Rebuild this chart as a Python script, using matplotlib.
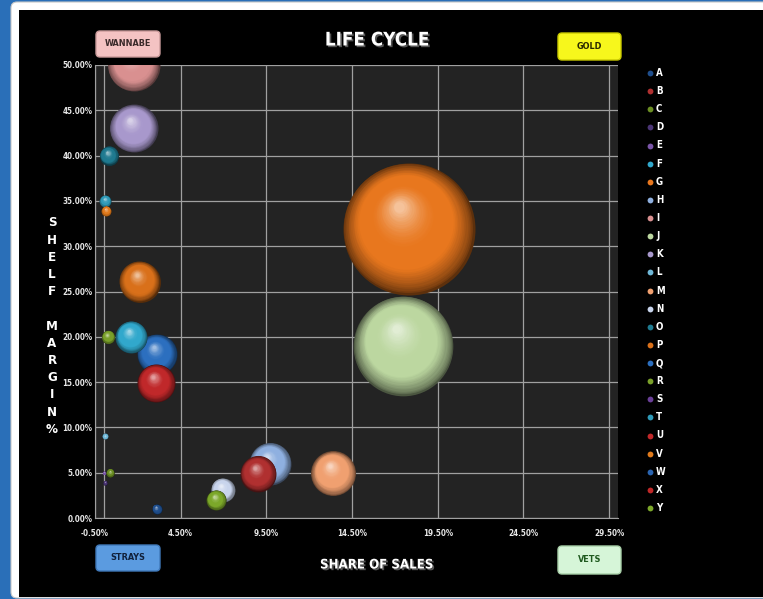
import numpy as np
import matplotlib
matplotlib.use("Agg")
import matplotlib.pyplot as plt
import matplotlib.patheffects as pe
from matplotlib.colors import to_rgb
from matplotlib.patches import FancyBboxPatch, Rectangle
from matplotlib.transforms import ScaledTranslation

# series (share of sales %, shelf margin %, bubble size); NaN = not visible in chart
SERIES = list("ABCDEFGHIJKLMNOPQRSTUVWXY")
SHARE = [3.1, 9.0, 0.4, 0.1, 0.05, 1.6, 17.8, 9.7, 1.75, 17.5,
         1.75, 0.1, 13.4, 6.95, 0.3, 2.1, 3.1, 0.25, np.nan, 0.1,
         3.05, 0.15, np.nan, np.nan, 6.55]
MARGIN = [1.0, 4.9, 5.0, 3.9, 5.0, 20.0, 31.9, 6.0, 50.0, 19.0,
          43.0, 9.0, 4.93, 3.1, 40.0, 26.1, 18.1, 20.0, np.nan, 35.0,
          14.9, 33.9, np.nan, np.nan, 2.0]
SIZE = [0.57, 7.4, 0.37, 0.09, 0.05, 5.9, 100, 10.1, 15.5, 57,
        13.2, 0.2, 11.6, 3.3, 2.1, 9.6, 9.2, 1.0, np.nan, 0.8,
        8.3, 0.57, np.nan, np.nan, 2.3]
COLORS = ["#1f4e8c", "#b03030", "#6b8e23", "#4b3575", "#7a55a8", "#31a8cc",
          "#e8771e", "#8fb0e0", "#d99090", "#bcd7a0", "#a898cc", "#6fb8d8",
          "#f0a070", "#c8d4ec", "#1f7a90", "#d9701a", "#2c6fbf", "#7aa02a",
          "#6a3f98", "#2f9ab8", "#c0282a", "#e07a1c", "#2a64b0", "#c02828",
          "#7ca82a"]
XTICKS = [-0.5, 4.5, 9.5, 14.5, 19.5, 24.5, 29.5]
YTICKS = [0, 5, 10, 15, 20, 25, 30, 35, 40, 45, 50]

plt.rcParams["font.family"] = ["DejaVu Sans"]
plt.rcParams["font.stretch"] = "condensed"

W, H = 763, 599
fig = plt.figure(figsize=(W / 100, H / 100), dpi=100, facecolor="#2a6fb8")

# overlay in pixel coords for frame, buttons, labels, legend
ov = fig.add_axes([0, 0, 1, 1], zorder=0)
ov.set_xlim(0, W); ov.set_ylim(H, 0); ov.axis("off")
ov.add_patch(FancyBboxPatch((11, 2), W, H - 3, boxstyle="round,pad=0,rounding_size=6",
                            fc="white", ec="#c8c8c8", lw=0.8))
ov.add_patch(Rectangle((19, 10), W, H - 12, fc="black", ec="none"))

def button(x, y, w, h, fc, ec, label, tc):
    ov.add_patch(FancyBboxPatch((x, y), w, h, boxstyle="round,pad=0,rounding_size=4",
                                fc=fc, ec=ec, lw=1.0))
    ov.text(x + w / 2, y + h / 2, label, ha="center", va="center", fontsize=6.5,
            fontweight="bold", color=tc)

button(96, 31, 64, 26, "#f4c3c3", "#c99a9a", "WANNABE", "#3a2a2a")
button(558, 33, 63, 27, "#f7f71c", "#c8c800", "GOLD", "#2a2a00")
button(96, 545, 64, 26, "#5b9be0", "#3f78b8", "STRAYS", "#10203a")
button(558, 546, 63, 28, "#d6f5d8", "#a8cfa8", "VETS", "#1f5a1f")

shadow = [pe.withSimplePatchShadow(offset=(1.2, -1.2), shadow_rgbFace="#555555", alpha=1)]
ov.text(377, 40, "LIFE CYCLE", ha="center", va="center", fontsize=13.5,
        fontweight="bold", color="white", path_effects=shadow)
ov.text(377, 565, "SHARE OF SALES", ha="center", va="center", fontsize=9.5,
        fontweight="bold", color="white", path_effects=shadow)
ov.text(52, 326, "S\nH\nE\nL\nF\n\nM\nA\nR\nG\nI\nN\n%", ha="center", va="center",
        fontsize=9.5, fontweight="bold", color="white", linespacing=1.42)

# legend (manual, matches the Excel series list)
for i, (name, col) in enumerate(zip(SERIES, COLORS)):
    yy = 73 + i * 18.125
    ov.plot(650, yy, "o", ms=4.2, color=col, mec="none")
    ov.text(656, yy, name, ha="left", va="center", fontsize=7, fontweight="bold",
            color="white")

# main plot area
ax = fig.add_axes([95 / W, 1 - 518 / H, 523 / W, 453 / H], zorder=2)
ax.set_facecolor("#232323")
ax.set_xlim(-0.5, 30.02)
ax.set_ylim(0, 50)
ax.set_xticks(XTICKS)
ax.set_xticklabels([f"{v:.2f}%" for v in XTICKS])
ax.set_yticks(YTICKS)
ax.set_yticklabels([f"{v:.2f}%" for v in YTICKS])
ax.tick_params(colors="#e8e8e8", labelsize=5.8, length=0, pad=2)
ax.tick_params(axis="x", pad=8)
for lab in ax.get_xticklabels() + ax.get_yticklabels():
    lab.set_fontweight("bold")
ax.grid(True, color="#a0a0a0", lw=0.9)
ax.set_axisbelow(True)
ax.axvline(0, color="#a0a0a0", lw=0.9, zorder=1)  # vertical axis crosses at 0
for s in ax.spines.values():
    s.set_visible(False)
ax.spines["left"].set_visible(True); ax.spines["left"].set_color("#a0a0a0")
ax.spines["bottom"].set_visible(True); ax.spines["bottom"].set_color("#a0a0a0")

# bubbles drawn as shaded spheres (area proportional to size)
R_MAX = 66 * 0.72  # radius in points of the largest bubble
order = np.argsort(-np.nan_to_num(np.array(SIZE, dtype=float)))
for i in order:
    x, y, s = SHARE[i], MARGIN[i], SIZE[i]
    if np.isnan(s):
        continue
    r = R_MAX * np.sqrt(s / 100)
    base = np.array(to_rgb(COLORS[i]))
    dark = base * 0.4
    light = base + (1 - base) * 0.55
    n = 40
    for k in range(n):
        t = k / (n - 1)
        f = 1 - 0.92 * t
        if t < 0.3:
            c = dark + (base - dark) * (t / 0.3) ** 0.7
        elif t < 0.55:
            c = base
        else:
            c = base + (light - base) * ((t - 0.55) / 0.45) ** 1.6
        dx, dy = -0.14 * r * t, 0.34 * r * t
        tr = ax.transData + ScaledTranslation(dx / 72, dy / 72, fig.dpi_scale_trans)
        ax.plot(x, y, "o", ms=2 * r * f, color=np.clip(c, 0, 1), mec="none",
                transform=tr, zorder=3)

fig.savefig("out.png", dpi=100, facecolor=fig.get_facecolor())
